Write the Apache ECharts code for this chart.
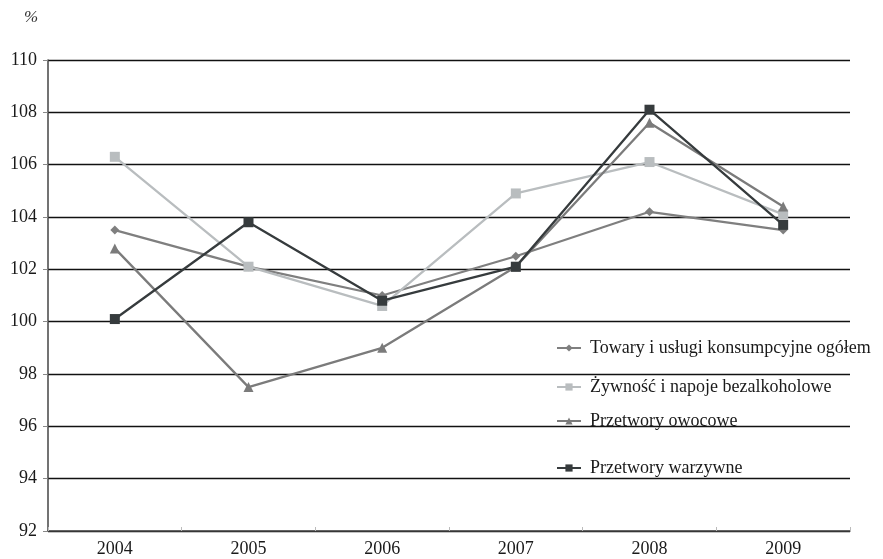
<!DOCTYPE html>
<html>
<head>
<meta charset="utf-8">
<script src="https://cdn.jsdelivr.net/npm/echarts@6/dist/echarts.min.js"></script>
<style>
  html, body { margin: 0; padding: 0; background: #fff; }
  #chart { width: 883px; height: 559px; }
</style>
</head>
<body>
<div id="chart"></div>
<script>
// Yearly price indices (previous year = 100)
const years = ['2004', '2005', '2006', '2007', '2008', '2009'];
const towary = [103.5, 102.1, 101.0, 102.5, 104.2, 103.5];
const zywnosc = [106.3, 102.1, 100.6, 104.9, 106.1, 104.1];
const owocowe = [102.8, 97.5, 99.0, 102.1, 107.6, 104.4];
const warzywne = [100.1, 103.8, 100.8, 102.1, 108.1, 103.7];
const seriesNames = [
  'Towary i usługi konsumpcyjne ogółem',
  'Żywność i napoje bezalkoholowe',
  'Przetwory owocowe',
  'Przetwory warzywne'
];

const FONT = '"Liberation Serif", "DejaVu Serif", serif';
const chart = echarts.init(document.getElementById('chart'), null, { renderer: 'canvas' });

const styles = [
  { data: towary, color: '#7f7f7f', symbol: 'diamond', size: 9 },
  { data: zywnosc, color: '#b9bdbf', symbol: 'rect', size: 10 },
  { data: owocowe, color: '#7b7b7b', symbol: 'triangle', size: 10 },
  { data: warzywne, color: '#363b3d', symbol: 'rect', size: 10 }
];

const legendTops = [334, 373, 407, 454];

chart.setOption({
  animation: false,
  backgroundColor: '#fff',
  textStyle: { fontFamily: FONT },
  graphic: [{
    type: 'text', left: 24, top: 9,
    style: { text: '%', font: 'italic 17px ' + FONT, fill: '#333' }
  }],
  legend: seriesNames.map((name, i) => ({
    data: [name],
    left: 551,
    top: legendTops[i],
    itemWidth: 24,
    itemHeight: 9,
    itemGap: 0,
    textStyle: { fontFamily: FONT, fontSize: 18, color: '#1a1a1a', padding: [0, 0, 0, 4] },
    backgroundColor: 'transparent'
  })),
  grid: { left: 48, right: 33, top: 60, bottom: 28, containLabel: false },
  xAxis: {
    type: 'category',
    data: years,
    boundaryGap: true,
    axisLine: { lineStyle: { color: '#444', width: 1.5 } },
    axisTick: { show: true, inside: true, length: 4, lineStyle: { color: '#bbb' } },
    axisLabel: { fontFamily: FONT, fontSize: 18, color: '#1a1a1a', margin: 9 },
    splitLine: { show: false }
  },
  yAxis: {
    type: 'value',
    min: 92, max: 110, interval: 2,
    axisLine: { show: true, lineStyle: { color: '#444', width: 1.5 } },
    axisTick: { show: true, length: 5, lineStyle: { color: '#888' } },
    axisLabel: { fontFamily: FONT, fontSize: 18, color: '#1a1a1a', margin: 11 },
    splitLine: { show: true, lineStyle: { color: '#111', width: 1.3 } }
  },
  series: seriesNames.map((name, i) => ({
    name: name,
    type: 'line',
    data: styles[i].data,
    symbol: styles[i].symbol,
    symbolSize: styles[i].size,
    showAllSymbol: true,
    itemStyle: { color: styles[i].color },
    lineStyle: { color: styles[i].color, width: 2.3 },
    z: 2 + i
  }))
});
</script>
</body>
</html>
